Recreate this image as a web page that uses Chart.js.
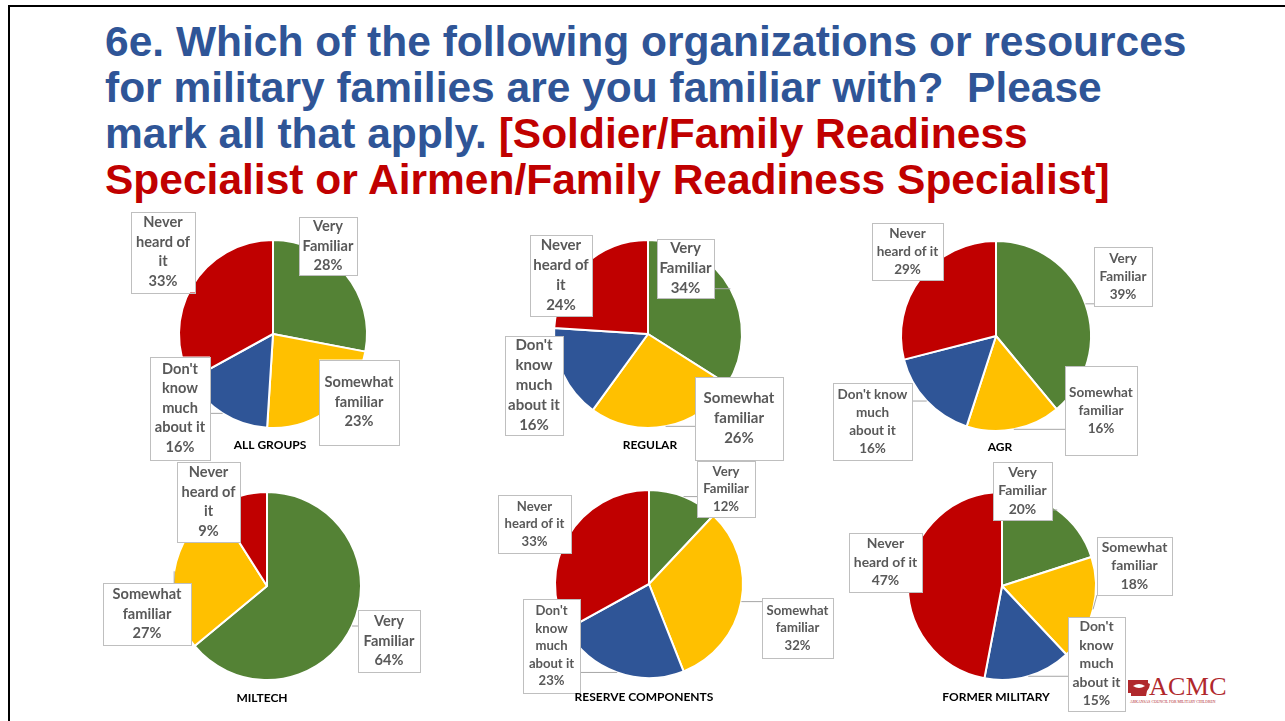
<!DOCTYPE html>
<html>
<head>
<meta charset="utf-8">
<script src="https://cdn.jsdelivr.net/npm/chart.js@4"></script>
<style>
  html, body { margin: 0; padding: 0; background: #fff; }
  body { width: 1285px; height: 721px; overflow: hidden; position: relative; }
  #frame { position: absolute; left: 8px; top: 5px; width: 1400px; height: 800px; border: 2px solid #000; box-sizing: border-box; }
  #title { position: absolute; left: 105px; top: 19px; font-family: "Liberation Sans", Arial, sans-serif; font-weight: bold;
           font-size: 42.5px; line-height: 46px; white-space: nowrap; }
  #title .b { color: #2F5597; }
  #title .r { color: #C00000; }
  .pie { position: absolute; width: 420px; height: 280px; }
  #logo { position: absolute; left: 1127px; top: 672px; width: 110px; height: 36px; }
  #logo .name { position: absolute; left: 22px; top: 0; font-family: "Liberation Serif", serif; font-size: 26px; color: #b0282c; letter-spacing: 0.3px; }
  #logo .sub { position: absolute; left: 3px; top: 28px; font-family: "Liberation Serif", serif; font-size: 3.8px; color: #b0282c; white-space: nowrap; }
</style>
</head>
<body>
<div id="frame"></div>
<div id="title"><span class="b">6e. Which of the following organizations or resources<br>for military families are you familiar with?&nbsp; Please<br>mark all that apply. </span><span class="r">[Soldier/Family Readiness<br>Specialist or Airmen/Family Readiness Specialist]</span></div>

<div id="logo">
  <svg width="22" height="16" style="position:absolute;left:1px;top:8px" viewBox="0 0 22 16">
    <path d="M0 0 H20 L20 3 L22 4 L21 8 L19 11 L18 16 H3 L3 13 L0 13 Z" fill="#b0282c"/>
    <path d="M5 6 Q11 2 17 6 Q11 10 5 6 Z" fill="#fff"/>
  </svg>
  <div class="name">ACMC</div>
  <div class="sub">ARKANSAS COUNCIL FOR MILITARY CHILDREN</div>
</div>

<script>
const categories = ['Very Familiar', 'Somewhat familiar', "Don't know much about it", 'Never heard of it'];
const groups = ['ALL GROUPS', 'REGULAR', 'AGR', 'MILTECH', 'RESERVE COMPONENTS', 'FORMER MILITARY'];
const allGroups = [28, 23, 16, 33];
const regular = [34, 26, 16, 24];
const agr = [39, 16, 16, 29];
const miltech = [64, 27, 0, 9];
const reserve = [12, 32, 23, 33];
const formerMilitary = [20, 18, 15, 47];
const groupValues = [allGroups, regular, agr, miltech, reserve, formerMilitary];
const sliceColors = ['#548235', '#FFC000', '#2F5597', '#C00000'];

// where each pie sits on the page and where its label boxes go (offsets from the pie centre)
// wrap = number of words on each line of the category name
const layouts = [
  { cx: 273, cy: 334, r: 94, lineH: 19.5, tdx: -3, tdy: 111, boxes: [
    { dx: 55, dy: -88, w: 58, h: 58, wrap: [1, 1] },
    { dx: 86, dy: 68, w: 80, h: 85, wrap: [1, 1] },
    { dx: -93, dy: 74, w: 60, h: 103, wrap: [1, 1, 1, 2], leader: true },
    { dx: -110, dy: -82, w: 64, h: 81, wrap: [1, 2, 1] } ] },
  { cx: 648, cy: 334, r: 94, lineH: 20, tdx: 2, tdy: 111, boxes: [
    { dx: 37.5, dy: -65.5, w: 57, h: 59, wrap: [1, 1], leader: true },
    { dx: 91, dy: 84.5, w: 88, h: 83, wrap: [1, 1], leader: true },
    { dx: -114, dy: 51.5, w: 58, h: 99, wrap: [1, 1, 1, 2] },
    { dx: -87, dy: -58.5, w: 62, h: 81, wrap: [1, 2, 1] } ] },
  { cx: 996, cy: 336, r: 95, lineH: 18, tdx: 4, tdy: 111, boxes: [
    { dx: 127, dy: -59.5, w: 58, h: 59, wrap: [1, 1], leader: true },
    { dx: 105, dy: 74.5, w: 72, h: 89, wrap: [1, 1], leader: true },
    { dx: -123.5, dy: 85.5, w: 79, h: 77, wrap: [2, 1, 2], leader: true },
    { dx: -88.5, dy: -84.5, w: 71, h: 57, wrap: [1, 3] } ] },
  { cx: 267, cy: 586, r: 94, lineH: 19.5, tdx: -5, tdy: 112, boxes: [
    { dx: 122, dy: 55, w: 62, h: 62, wrap: [1, 1], leader: true },
    { dx: -120, dy: 28, w: 88, h: 62, wrap: [1, 1], leader: true },
    null,
    { dx: -58.5, dy: -84, w: 63, h: 80, wrap: [1, 2, 1] } ] },
  { cx: 649, cy: 584, r: 94, lineH: 17.5, tdx: -5, tdy: 113, boxes: [
    { dx: 77, dy: -95, w: 58, h: 56, wrap: [1, 1], leader: true },
    { dx: 148.5, dy: 44, w: 71, h: 60, wrap: [1, 1], leader: true },
    { dx: -97.5, dy: 62, w: 57, h: 94, wrap: [1, 1, 1, 2], leader: true },
    { dx: -114.5, dy: -60, w: 73, h: 58, wrap: [1, 3] } ] },
  { cx: 1002, cy: 586, r: 94, lineH: 18.5, tdx: -6, tdy: 111, boxes: [
    { dx: 20.5, dy: -95, w: 59, h: 58, wrap: [1, 1], leader: true },
    { dx: 132.5, dy: -20, w: 75, h: 58, wrap: [1, 1], leader: true },
    { dx: 94.5, dy: 78, w: 57, h: 94, wrap: [1, 1, 1, 2], leader: true },
    { dx: -116.5, dy: -23.5, w: 73, h: 59, wrap: [1, 3] } ] }
];

function wrapName(name, wrap) {
  const words = name.split(' ');
  const lines = [];
  let k = 0;
  wrap.forEach(n => { lines.push(words.slice(k, k + n).join(' ')); k += n; });
  return lines;
}

const calloutPlugin = {
  id: 'callouts',
  afterDraw(chart, args, opts) {
    const ctx = chart.ctx;
    const meta = chart.getDatasetMeta(0);
    const values = chart.data.datasets[0].data;
    const lay = opts.layout;
    let px = 0, py = 0;
    meta.data.forEach((arc, i) => {
      const p = arc.getProps(['x', 'y', 'startAngle', 'endAngle', 'outerRadius'], true);
      px = p.x; py = p.y;
      const b = lay.boxes[i];
      if (!b || !values[i]) return;
      const mid = (p.startAngle + p.endAngle) / 2;
      const ax = p.x + Math.cos(mid) * p.outerRadius;
      const ay = p.y + Math.sin(mid) * p.outerRadius;
      const bx = p.x + b.dx - b.w / 2, by = p.y + b.dy - b.h / 2;
      ctx.save();
      if (b.leader) {
        const nx = Math.min(Math.max(ax, bx), bx + b.w);
        const ny = Math.min(Math.max(ay, by), by + b.h);
        ctx.strokeStyle = '#a6a6a6';
        ctx.lineWidth = 1;
        ctx.beginPath();
        ctx.moveTo(nx, ny);
        ctx.lineTo(ax, ay);
        ctx.stroke();
      }
      ctx.fillStyle = '#fff';
      ctx.fillRect(bx, by, b.w, b.h);
      ctx.strokeStyle = '#bfbfbf';
      ctx.lineWidth = 1;
      ctx.strokeRect(Math.round(bx) + 0.5, Math.round(by) + 0.5, Math.round(b.w), Math.round(b.h));
      const lines = wrapName(chart.data.labels[i], b.wrap);
      lines.push(Math.round(values[i]) + '%');
      ctx.fillStyle = '#595959';
      ctx.font = '700 ' + (lay.lineH * 0.75).toFixed(1) + 'px Lato, "Open Sans", sans-serif';
      ctx.textAlign = 'center';
      ctx.textBaseline = 'middle';
      const top = p.y + b.dy - (lines.length - 1) * lay.lineH / 2;
      lines.forEach((t, j) => ctx.fillText(t, p.x + b.dx, top + j * lay.lineH));
      ctx.restore();
    });
    ctx.save();
    ctx.fillStyle = '#000';
    ctx.font = '700 12px Lato, "Open Sans", sans-serif';
    ctx.textAlign = 'center';
    ctx.textBaseline = 'middle';
    ctx.fillText(opts.groupName, px + lay.tdx, py + lay.tdy);
    ctx.restore();
  }
};

groups.forEach((name, g) => {
  const lay = layouts[g];
  const wrap = document.createElement('div');
  wrap.className = 'pie';
  wrap.style.left = (lay.cx - 210) + 'px';
  wrap.style.top = (lay.cy - 140) + 'px';
  const canvas = document.createElement('canvas');
  canvas.width = 420;
  canvas.height = 280;
  wrap.appendChild(canvas);
  document.body.appendChild(wrap);

  new Chart(canvas.getContext('2d'), {
    type: 'pie',
    data: {
      labels: categories,
      datasets: [{
        data: groupValues[g],
        backgroundColor: sliceColors,
        borderColor: '#fff',
        borderWidth: 2,
        radius: lay.r
      }]
    },
    options: {
      responsive: false,
      animation: false,
      events: [],
      layout: { padding: 0 },
      plugins: {
        legend: { display: false },
        tooltip: { enabled: false },
        callouts: { layout: lay, groupName: name }
      }
    },
    plugins: [calloutPlugin]
  });
});
</script>
</body>
</html>
